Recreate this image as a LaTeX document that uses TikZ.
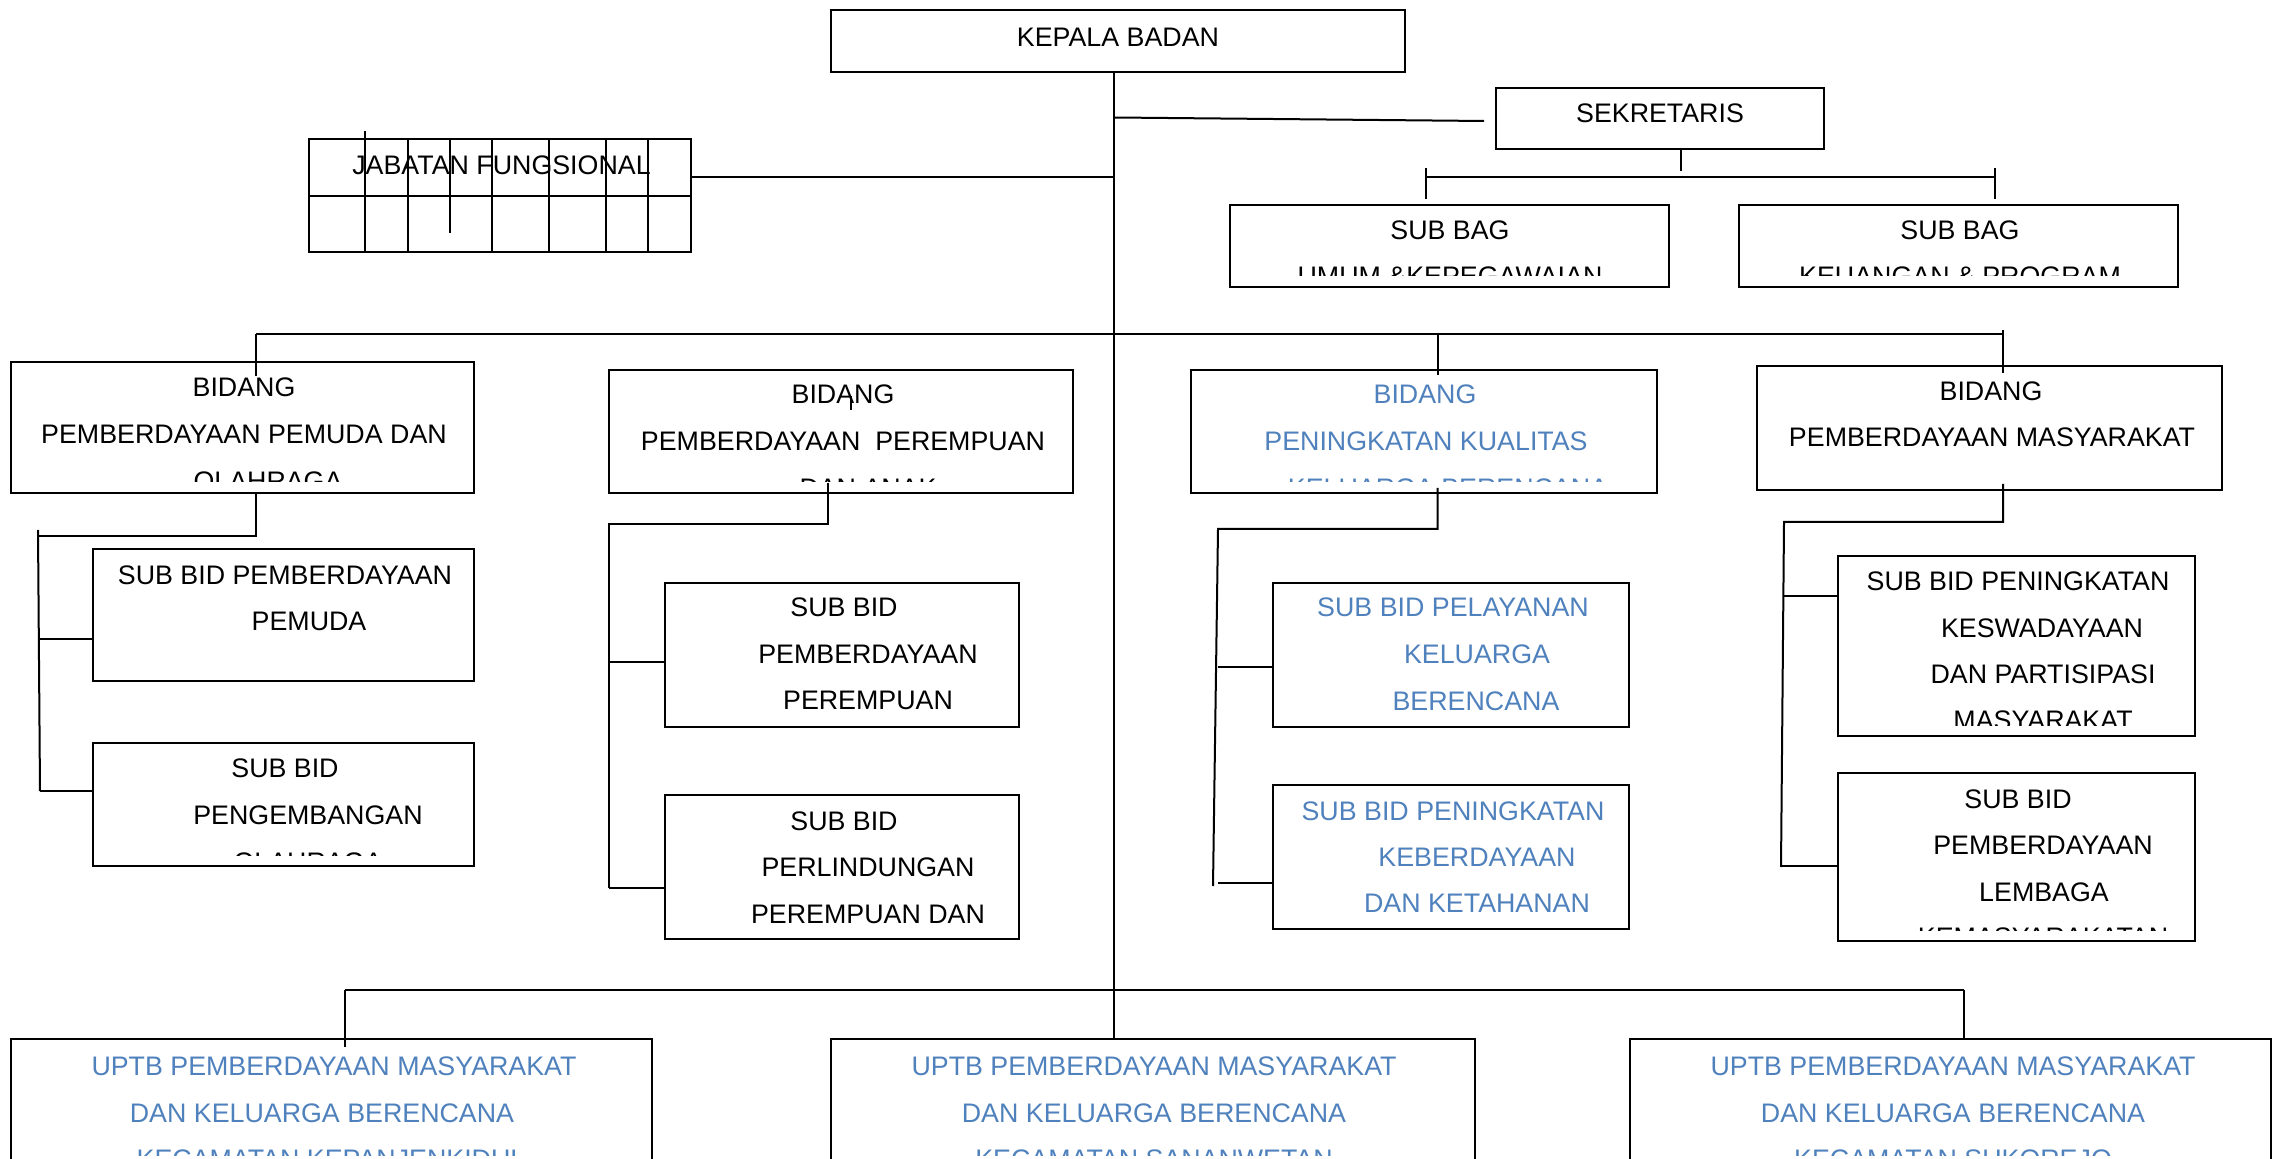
\documentclass[tikz,border=0pt]{standalone}
\usepackage{fontspec}
\setmainfont{Liberation Sans}
\usetikzlibrary{fit}
\definecolor{acc}{HTML}{4F81BD}
\newcommand{\TL}[5][]{\node[tl,#1] (#2) at (#3,#4) {#5};}
\newcommand{\TLc}[6][]{\begin{scope}\clip (0,0) rectangle (2274,#5);\node[tl,#1] (#2) at (#3,#4) {#6};\end{scope}}
\newcommand{\BX}[5]{\node[box,fit={(#2,#3)(#4,#5)}] (#1) {};}
\begin{document}
\begin{tikzpicture}[x=0.5pt,y=-0.5pt,
 box/.style={draw,line width=1pt,inner sep=0pt,outer sep=0pt},
 conn/.style={line width=1pt},
 tl/.style={anchor=base,inner sep=0pt,font=\fontsize{13.4}{15}\selectfont},
 blu/.style={text=acc}]
\useasboundingbox (0,0) rectangle (2274,1159);
\clip (0,0) rectangle (2274,1159);
\fill[white] (0,0) rectangle (2274,1159);

% ---------- top ----------
\BX{kb}{831}{10}{1405}{72}
\TL{kbT}{1118}{47}{KEPALA BADAN}

\BX{jf}{309}{139}{691}{252}
\draw[conn] (jf.west |- 0,196) -- (jf.east |- 0,196);
\foreach \x/\a/\b in {365/131/252,408/139/252,450/139/233,492/139/252,549/139/252,606/139/252,648/139/252}
  \draw[conn] (\x,\a) -- (\x,\b);
\TL{jfT}{501.5}{175}{JABATAN FUNGSIONAL}
\coordinate (jfj) at (1114,177);
\draw[conn] (jf.east |- jfj) -- (jfj);

\BX{sk}{1496}{88}{1824}{149}
\TL{skT}{1660}{123}{SEKRETARIS}
\coordinate (skj) at (1114,117.5);
\coordinate (ske) at (1484,121);
\draw[conn] (skj) -- (ske);
\coordinate (skd) at (1681,171);
\draw[conn] (sk.south -| skd) -- (skd);
\coordinate (sbl) at (1426,177);
\coordinate (sbr) at (1995,177);
\draw[conn] (sbl) -- (sbr);
\draw[conn] ([yshift=4.5pt]sbl) -- ([yshift=-11pt]sbl);
\draw[conn] ([yshift=4.5pt]sbr) -- ([yshift=-11pt]sbr);

\BX{sb1}{1230}{205}{1669}{287}
\TL{sb1T}{1450}{240}{SUB BAG}
\TLc{sb1U}{1450}{286}{276}{UMUM \&KEPEGAWAIAN}
\BX{sb2}{1739}{205}{2178}{287}
\TL{sb2T}{1960}{240}{SUB BAG}
\TLc{sb2U}{1960}{286}{276}{KEUANGAN \& PROGRAM}

% ---------- bidang row ----------
\BX{b1}{11}{362}{474}{493}
\TL{b1a}{244}{397}{BIDANG}
\TL{b1b}{244}{444}{PEMBERDAYAAN PEMUDA DAN}
\TLc{b1c}{268}{491}{482}{OLAHRAGA}

\BX{b2}{609}{370}{1073}{493}
\TL{b2a}{843}{404}{BIDANG}
\TL{b2b}{843}{451}{PEMBERDAYAAN\ \ PEREMPUAN}
\TLc{b2c}{868}{498}{482}{DAN ANAK}
\draw[conn] (851,396) -- (851,410);

\BX{b3}{1191}{370}{1657}{493}
\TL[blu]{b3a}{1425}{404}{BIDANG}
\TL[blu]{b3b}{1426}{451}{PENINGKATAN KUALITAS}
\TLc[blu]{b3c}{1448}{498}{482}{KELUARGA BERENCANA}

\BX{b4}{1757}{366}{2222}{490}
\TL{b4a}{1991}{401}{BIDANG}
\TL{b4b}{1992}{447}{PEMBERDAYAAN MASYARAKAT}

\draw[conn] (256,334) -- (2003,334);
\draw[conn] (256,334) -- (256,376);
\draw[conn] (1437.5,334) -- (1437.5,375);
\draw[conn] (2003,330) -- (2003,373);

% ---------- sub bid column 1 ----------
\BX{s1a}{93}{549}{474}{681}
\TL{s1a1}{285}{585}{SUB BID PEMBERDAYAAN}
\TL{s1a2}{309}{631}{PEMUDA}
\BX{s1b}{93}{743}{474}{866}
\TL{s1b1}{285}{777}{SUB BID}
\TL{s1b2}{308}{824}{PENGEMBANGAN}
\TLc{s1b3}{308}{871}{855}{OLAHRAGA}
\coordinate (c1) at (256,536);
\coordinate (c1l) at (38,536);
\draw[conn] (b1.south -| c1) -- (c1) -- (c1l);
\draw[conn] (38,530) -- (40,791);
\coordinate (r1a) at (38,639);
\coordinate (r1b) at (40,791);
\draw[conn] (r1a) -- (r1a -| s1a.west);
\draw[conn] (r1b) -- (r1b -| s1b.west);

% ---------- sub bid column 2 ----------
\BX{s2a}{665}{583}{1019}{727}
\TL{s2a1}{844}{617}{SUB BID}
\TL{s2a2}{868}{663}{PEMBERDAYAAN}
\TL{s2a3}{868}{710}{PEREMPUAN}
\BX{s2b}{665}{795}{1019}{939}
\TL{s2b1}{844}{830}{SUB BID}
\TL{s2b2}{868}{876}{PERLINDUNGAN}
\TL{s2b3}{868}{923}{PEREMPUAN DAN}
\coordinate (c2t) at (828,483);
\coordinate (c2) at (828,524);
\coordinate (c2l) at (609,524);
\coordinate (r2a) at (609,662);
\coordinate (r2b) at (609,888);
\draw[conn] (c2t) -- (c2) -- (c2l) -- (r2b);
\draw[conn] (r2a) -- (r2a -| s2a.west);
\draw[conn] (r2b) -- (r2b -| s2b.west);

% ---------- sub bid column 3 ----------
\BX{s3a}{1273}{583}{1629}{727}
\TL[blu]{s3a1}{1453}{617}{SUB BID PELAYANAN}
\TL[blu]{s3a2}{1477}{664}{KELUARGA}
\TL[blu]{s3a3}{1476}{711}{BERENCANA}
\BX{s3b}{1273}{785}{1629}{929}
\TL[blu]{s3b1}{1453}{820}{SUB BID PENINGKATAN}
\TL[blu]{s3b2}{1477}{866}{KEBERDAYAAN}
\TL[blu]{s3b3}{1477}{912}{DAN KETAHANAN}
\coordinate (c3t) at (1437.5,488);
\coordinate (c3) at (1437.5,529);
\coordinate (c3l) at (1218,529);
\coordinate (c3b) at (1213,886);
\draw[conn] (c3t) -- (c3) -- (c3l) -- (c3b);
\coordinate (r3a) at (1218,667);
\coordinate (r3b) at (1218,883);
\draw[conn] (r3a) -- (r3a -| s3a.west);
\draw[conn] (r3b) -- (r3b -| s3b.west);

% ---------- sub bid column 4 ----------
\BX{s4a}{1838}{556}{2195}{736}
\TL{s4a1}{2018}{591}{SUB BID PENINGKATAN}
\TL{s4a2}{2042}{638}{KESWADAYAAN}
\TL{s4a3}{2043}{683}{DAN PARTISIPASI}
\TLc{s4a4}{2043}{729}{725}{MASYARAKAT}
\BX{s4b}{1838}{773}{2195}{941}
\TL{s4b1}{2018}{808}{SUB BID}
\TL{s4b2}{2043}{854}{PEMBERDAYAAN}
\TL{s4b3}{2044}{901}{LEMBAGA}
\TLc{s4b4}{2043}{946}{930}{KEMASYARAKATAN}
\coordinate (c4t) at (2003,484);
\coordinate (c4) at (2003,522);
\coordinate (c4l) at (1784,522);
\coordinate (c4b) at (1781,867);
\draw[conn] (c4t) -- (c4) -- (c4l) -- (c4b);
\coordinate (r4a) at (1784,596);
\coordinate (r4b) at (1781,866);
\draw[conn] (r4a) -- (r4a -| s4a.west);
\draw[conn] (r4b) -- (r4b -| s4b.west);

% ---------- UPTB row ----------
\BX{u1}{11}{1039}{652}{1175}
\TL[blu]{u1a}{334}{1075}{UPTB PEMBERDAYAAN MASYARAKAT}
\TL[blu]{u1b}{322}{1122}{DAN KELUARGA BERENCANA}
\TLc[blu]{u1c}{331}{1168}{1155}{KECAMATAN KEPANJENKIDUL}
\BX{u2}{831}{1039}{1475}{1175}
\TL[blu]{u2a}{1154}{1075}{UPTB PEMBERDAYAAN MASYARAKAT}
\TL[blu]{u2b}{1154}{1122}{DAN KELUARGA BERENCANA}
\TLc[blu]{u2c}{1154}{1168}{1155}{KECAMATAN SANANWETAN}
\BX{u3}{1629.5}{1039}{2271}{1175}
\TL[blu]{u3a}{1953}{1075}{UPTB PEMBERDAYAAN MASYARAKAT}
\TL[blu]{u3b}{1953}{1122}{DAN KELUARGA BERENCANA}
\TLc[blu]{u3c}{1953}{1168}{1155}{KECAMATAN SUKOREJO}

\coordinate (ul) at (345,990);
\coordinate (ur) at (1964,990);
\draw[conn] (ul) -- (ur);
\draw[conn] (ul) -- (ul |- 0,1047);
\draw[conn] (ur) -- (ur |- u3.north);

% main vertical
\coordinate (mx) at (1114,0);
\draw[conn] (mx |- kb.south) -- (mx |- u2.north);
\end{tikzpicture}
\end{document}
